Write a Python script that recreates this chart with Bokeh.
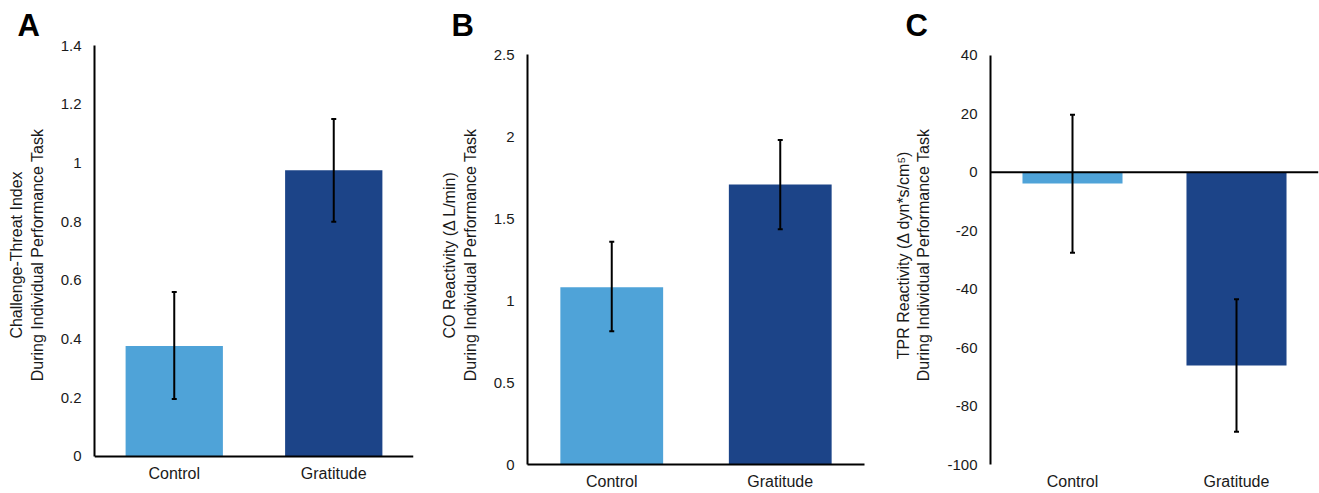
from bokeh.plotting import figure
from bokeh.models import (FactorRange, Range1d, FixedTicker, Whisker, ColumnDataSource,
                          Span, TeeHead)
from bokeh.layouts import row
from bokeh.embed import file_html
from bokeh.resources import INLINE

# ---------------- data ----------------
categories = ["Control", "Gratitude"]
bar_colors = ["#4FA3D8", "#1C4488"]

# Panel A: Challenge-Threat Index
a_mean = [0.376, 0.975]
a_upper = [0.56, 1.15]
a_lower = [0.196, 0.80]
a_ticks = [0, 0.2, 0.4, 0.6, 0.8, 1, 1.2, 1.4]
a_tick_labels = ["0", "0.2", "0.4", "0.6", "0.8", "1", "1.2", "1.4"]

# Panel B: CO Reactivity
b_mean = [1.082, 1.709]
b_upper = [1.359, 1.98]
b_lower = [0.813, 1.436]
b_ticks = [0, 0.5, 1, 1.5, 2, 2.5]
b_tick_labels = ["0", "0.5", "1", "1.5", "2", "2.5"]

# Panel C: TPR Reactivity
c_mean = [-3.8, -66.1]
c_upper = [19.7, -43.4]
c_lower = [-27.5, -88.8]
c_ticks = [-100, -80, -60, -40, -20, 0, 20, 40]
c_tick_labels = ["-100", "-80", "-60", "-40", "-20", "0", "20", "40"]

FONT = "Liberation Sans"
TXT = "#1a1a1a"
H = 493
TOP = 45      # common top border (frames are aligned in a row)
BOTTOM = 29   # common bottom border


def make_panel(letter, ylabel, mean, upper, lower, ticks, tick_labels,
               view, bounds, w, bl, br, letter_offset,
               x_line=True, zero_line=False, cat_standoff=8):
    p = figure(x_range=FactorRange(factors=categories, range_padding=0),
               y_range=Range1d(*view),
               width=w, height=H,
               min_border_left=bl, min_border_right=br,
               min_border_top=TOP, min_border_bottom=BOTTOM,
               output_backend="svg", toolbar_location=None,
               title=letter,
               background_fill_color="white", border_fill_color="white")
    p.outline_line_color = None
    p.xgrid.visible = False
    p.ygrid.visible = False

    src = ColumnDataSource(dict(cat=categories, mean=mean, upper=upper,
                                lower=lower, color=bar_colors))
    p.vbar(x="cat", top="mean", bottom=0, width=0.61, color="color",
           line_color=None, source=src)
    if zero_line:
        p.add_layout(Span(location=0, dimension="width", line_color="black",
                          line_width=2))
    wsk = Whisker(source=src, base="cat", upper="upper", lower="lower",
                  line_color="black", line_width=2, level="overlay",
                  upper_head=TeeHead(size=5, line_color="black", line_width=2),
                  lower_head=TeeHead(size=5, line_color="black", line_width=2))
    p.add_layout(wsk)

    # y axis
    ya = p.yaxis[0]
    ya.ticker = FixedTicker(ticks=ticks)
    ya.bounds = bounds
    ya.major_label_overrides = {t: s for t, s in zip(ticks, tick_labels)}
    ya.axis_label = ylabel
    ya.axis_label_text_font = FONT
    ya.axis_label_text_font_size = "16px"
    ya.axis_label_text_font_style = "normal"
    ya.axis_label_text_color = TXT
    ya.axis_label_standoff = 12
    ya.major_label_text_font = FONT
    ya.major_label_text_font_size = "15px"
    ya.major_label_text_color = TXT
    ya.major_label_standoff = 13
    ya.major_tick_line_color = None
    ya.major_tick_out = 0
    ya.major_tick_in = 0
    ya.minor_tick_line_color = None
    ya.axis_line_color = "black"
    ya.axis_line_width = 2

    # x axis
    xa = p.xaxis[0]
    xa.major_label_text_font = FONT
    xa.major_label_text_font_size = "16px"
    xa.major_label_text_color = TXT
    xa.major_label_standoff = cat_standoff
    xa.major_tick_line_color = None
    xa.major_tick_out = 0
    xa.major_tick_in = 0
    xa.minor_tick_line_color = None
    if x_line:
        xa.axis_line_color = "black"
        xa.axis_line_width = 2
    else:
        xa.axis_line_color = None

    p.title.align = "left"
    p.title.offset = letter_offset
    p.title.text_font = FONT
    p.title.text_font_size = "31px"
    p.title.text_font_style = "bold"
    p.title.text_color = "black"
    p.title.standoff = 5
    return p


# Panel A: x axis line drawn as a zero line (frame extends slightly below 0)
pa = make_panel("A", "Challenge-Threat Index\nDuring Individual Performance Task",
                a_mean, a_upper, a_lower, a_ticks, a_tick_labels,
                view=(-0.0273, 1.4), bounds=(0, 1.4),
                w=438, bl=94, br=25, letter_offset=-77,
                x_line=False, zero_line=True, cat_standoff=0)

pb = make_panel("B", "CO Reactivity (\u0394 L/min)\nDuring Individual Performance Task",
                b_mean, b_upper, b_lower, b_ticks, b_tick_labels,
                view=(0, 2.557), bounds=(0, 2.5),
                w=440, bl=88, br=14, letter_offset=-76)

pc = make_panel("C", "TPR Reactivity (\u0394 dyn*s/cm\u2075)\nDuring Individual Performance Task",
                c_mean, c_upper, c_lower, c_ticks, c_tick_labels,
                view=(-100, 43.42), bounds=(-100, 40),
                w=441, bl=112, br=1, letter_offset=-85,
                x_line=False, zero_line=True)

layout = row(pa, pb, pc, spacing=0)

open("out.html", "w").write(file_html(layout, INLINE))
